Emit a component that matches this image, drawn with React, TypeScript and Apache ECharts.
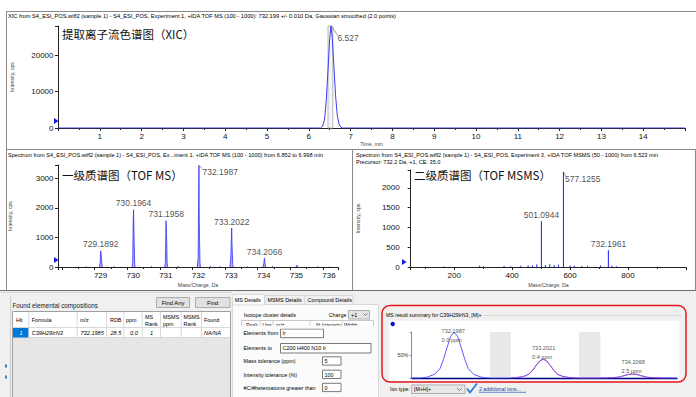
import React, { useEffect, useRef } from "react";
import * as echarts from "echarts";

const FONT = '"Liberation Sans", Arial, Helvetica, sans-serif';
const CJK = '"Noto Sans CJK SC", "Noto Sans CJK JP", sans-serif';

// ---------- XIC ----------
const xicTime = [0, 6.28, 6.33, 6.38, 6.42, 6.46, 6.5, 6.53, 6.56, 6.6, 6.64, 6.68, 6.73, 6.79, 15];
const xicIntensity = [0, 0, 500, 2500, 8000, 16000, 24500, 28000, 25000, 17000, 9000, 3500, 800, 0, 0];
const xicPeakTime = 6.53;
const xicPeakHeight = 28000;
const xicPeakLabel = "6.527";
const xicWindow = [6.46, 6.575];
const xicXTicks = [1, 2, 3, 4, 5, 6, 7, 8, 9, 10, 11, 12, 13, 14];
const xicYTicks = [0, 10000, 20000];

// ---------- TOF MS ----------
const msProfiles: number[][][] = [
  [[729.15, 0], [729.17, 120], [729.19, 550], [729.21, 330], [729.23, 40], [729.25, 0]],
  [[730.15, 0], [730.17, 160], [730.185, 1600], [730.196, 1935], [730.21, 1050], [730.23, 90], [730.245, 0]],
  [[731.15, 0], [731.17, 150], [731.19, 1565], [731.205, 1180], [731.225, 120], [731.245, 0]],
  [[732.15, 0], [732.175, 320], [732.1987, 3435], [732.21, 1480], [732.23, 150], [732.245, 0]],
  [[733.15, 0], [733.175, 330], [733.2022, 1318], [733.215, 700], [733.235, 80], [733.255, 0]],
  [[734.16, 0], [734.185, 120], [734.2066, 300], [734.22, 150], [734.24, 0]],
  [[735.17, 0], [735.2, 60], [735.23, 0]],
];
const msNoiseMz = [728.74, 729.6, 730.75, 731.56, 732.56, 732.84, 733.69, 734.46, 735.84, 736.21];
const msNoiseInt = [25, 30, 35, 30, 40, 30, 25, 30, 25, 20];
const msPeakMz = [729.1892, 730.1964, 731.1958, 732.1987, 733.2022, 734.2066];
const msPeakHeight = [550, 1935, 1565, 3435, 1318, 300];
const msPeakLabels = ["729.1892", "730.1964", "731.1958", "732.1987", "733.2022", "734.2066"];
const msXTicks = [729, 730, 731, 732, 733, 734, 735, 736];
const msYTicks = [0, 1000, 2000, 3000];

// ---------- TOF MSMS ----------
const msmsMz = [501.0944, 577.1255, 732.1961, 165, 288, 300, 372, 395, 430, 455, 470, 485, 515, 530, 545, 560, 600, 615, 640, 660, 705, 745, 760];
const msmsInt = [1154, 2400, 420, 15, 30, 20, 25, 20, 30, 40, 35, 60, 50, 70, 45, 60, 40, 30, 25, 30, 40, 30, 20];
const msmsPeakMz = [501.0944, 577.1255, 732.1961];
const msmsPeakHeight = [1154, 2400, 420];
const msmsPeakLabels = ["501.0944", "577.1255", "732.1961"];
const msmsXTicks = [200, 400, 600, 800];
const msmsYTicks = [0, 500, 1000, 1500, 2000];

// ---------- MS result summary ----------
const miniMeasured: number[][] = [
  [731.724, 0], [731.82, 0], [731.9, 2], [731.98, 8], [732.04, 20], [732.08, 40], [732.12, 66], [732.16, 90],
  [732.1987, 100], [732.24, 90], [732.28, 66], [732.32, 40], [732.36, 20], [732.42, 8], [732.5, 2], [732.58, 0],
  [732.82, 0], [732.9, 0.8], [732.98, 3.3], [733.04, 8.2], [733.08, 16.4], [733.12, 27], [733.16, 37],
  [733.2021, 41], [733.24, 37], [733.28, 27], [733.32, 16.4], [733.36, 8.2], [733.42, 3.3], [733.5, 0.8], [733.58, 0],
  [733.82, 0], [733.9, 0.2], [733.98, 0.7], [734.04, 1.7], [734.08, 3.5], [734.12, 5.7], [734.16, 7.8],
  [734.2068, 8.7], [734.25, 7.8], [734.29, 5.7], [734.33, 3.5], [734.37, 1.7], [734.43, 0.7], [734.51, 0.2], [734.59, 0],
  [734.7, 0],
];
const miniTheory: number[][] = [
  [732.82, 0], [732.9, 0.9], [732.98, 3.6], [733.04, 8.8], [733.08, 17.2], [733.12, 27.8], [733.16, 37.4],
  [733.2, 40.6], [733.24, 36.4], [733.28, 26.2], [733.32, 15.8], [733.36, 7.8], [733.42, 3], [733.5, 0.7], [733.58, 0],
  [733.82, 0], [733.9, 0.3], [733.98, 0.9], [734.04, 2.1], [734.08, 4], [734.12, 6.2], [734.16, 8],
  [734.2, 8.6], [734.24, 7.6], [734.28, 5.5], [734.32, 3.3], [734.36, 1.6], [734.42, 0.6], [734.5, 0.2], [734.58, 0],
];
const miniBands = [[732.603, 732.835], [733.6, 733.84]];
const miniPeakMz = [732.1987, 733.2021, 734.2068];
const miniPeakPct = [100, 41, 8.7];
const miniPeakLabels = ["732.1987", "733.2021", "734.2068"];
const miniPpmLabels = ["0.0 ppm", "0.4 ppm", "2.5 ppm"];
const miniYTicks = [50];

// ---------- form table ----------
const tableHeaders = ["Hit", "Formula", "m/z", "RDB", "ppm", "MS\nRank", "MSMS\nppm", "MSMS\nRank", "Found"];
const tableRow = ["1", "C39H29IrN3", "732.1985", "28.5", "0.0", "1", "", "", "NA/NA"];

const T = (x: number, y: number, text: string, o: any = {}) => ({
  type: "text",
  x,
  y,
  z: o.z ?? 50,
  silent: true,
  style: {
    text,
    fontSize: o.size ?? 5.6,
    fontFamily: o.family ?? FONT,
    fill: o.color ?? "#000",
    align: o.align ?? "left",
    verticalAlign: "middle",
    fontStyle: o.italic ? "italic" : "normal",
    lineHeight: o.lh ?? 6,
  },
});
const R = (x: number, y: number, w: number, h: number, fill: string, stroke?: string, z = -5, r = 0, lw = 1) => ({
  type: "rect",
  z,
  silent: true,
  shape: { x, y, width: w, height: h, r },
  style: { fill, stroke: stroke ?? "none", lineWidth: lw },
});
const L = (x1: number, y1: number, x2: number, y2: number, stroke: string, w = 1, z = 40) => ({
  type: "line",
  z,
  silent: true,
  shape: { x1, y1, x2, y2 },
  style: { stroke, lineWidth: w },
});

const AX = "#222";
const CLEAR = "rgba(0,0,0,0)";
const baseAxis = (gridIndex: number, fmt: (v: number) => string, extra: any = {}) => ({
  type: "value",
  gridIndex,
  axisLine: { show: true, onZero: false, lineStyle: { color: AX, width: 1 } },
  axisTick: { show: true, length: 3, lineStyle: { color: AX, width: 1 } },
  minorTick: { show: false },
  splitLine: { show: false },
  axisLabel: { fontSize: 8, color: "#111", fontFamily: FONT, margin: 4.5, formatter: fmt },
  nameTextStyle: { fontSize: 5.2, color: "#444", fontFamily: FONT },
  nameLocation: "middle",
  ...extra,
});

function buildOption() {
  const graphics: any[] = [];
  // frames
  graphics.push(L(6, 11.5, 696, 11.5, "#8a8a8a"));
  graphics.push(L(6.5, 11, 6.5, 291, "#8a8a8a"));
  graphics.push(L(6, 149.5, 696, 149.5, "#8a8a8a"));
  graphics.push(L(352.5, 149.5, 352.5, 291, "#8a8a8a"));
  graphics.push(L(695.5, 149.5, 695.5, 291, "#8a8a8a"));
  // titles
  graphics.push(T(8, 16, "XIC from S4_ESI_POS.wiff2 (sample 1) - S4_ESI_POS, Experiment 1, +IDA TOF MS (100 - 1000): 732.199 +/- 0.010 Da, Gaussian smoothed (2.0 points)", { size: 5.7 }));
  graphics.push(T(8, 155, "Spectrum from S4_ESI_POS.wiff2 (sample 1) - S4_ESI_POS, Ex...iment 1, +IDA TOF MS (100 - 1000) from 6.852 to 6.998 min"));
  graphics.push(T(356, 155, "Spectrum from S4_ESI_POS.wiff2 (sample 1) - S4_ESI_POS, Experiment 3, +IDA TOF MSMS (50 - 1000) from 6.523 min"));
  graphics.push(T(356, 161.5, "Precursor: 732.2 Da, +1, CE: 35.0"));
  // chinese labels
  graphics.push(T(62, 34, "提取离子流色谱图（XIC）", { size: 11.5, family: CJK, color: "#111" }));
  graphics.push(T(62, 175, "一级质谱图（TOF MS）", { size: 11.5, family: CJK, color: "#111" }));
  graphics.push(T(414, 175, "二级质谱图（TOF MSMS）", { size: 11.5, family: CJK, color: "#111" }));
  // origin markers
  const marker = (x: number, y: number) => ({
    type: "polygon",
    z: 60,
    silent: true,
    shape: { points: [[x - 3, y - 3], [x + 1.5, y], [x - 3, y + 3]] },
    style: { fill: "#1a1ae0" },
  });
  graphics.push(marker(57, 121));
  graphics.push(marker(57, 260));
  graphics.push(marker(405, 262));

  // lower area
  graphics.push(R(0, 291, 696, 106, "#f0f0f0", undefined, -6));
  graphics.push(L(0, 290.5, 696, 290.5, "#6e6e6e", 1));
  graphics.push(L(0, 292.5, 232, 292.5, "#d6d6d6", 1));
  graphics.push(L(10.5, 296, 10.5, 397, "#cfcfcf", 1));
  graphics.push(R(5, 364.5, 1.8, 3, "#1e6fd0", undefined, 10));
  graphics.push(R(5, 375.5, 1.8, 3, "#1e6fd0", undefined, 10));
  graphics.push(T(12.5, 305, "Found elemental compositions", { size: 6.3, color: "#222" }));
  graphics.push(R(156.5, 297.5, 33, 10, "#e1e1e1", "#adadad", 20));
  graphics.push(T(173, 302.5, "Find Any", { align: "center", size: 5.8 }));
  graphics.push(R(195.5, 297.5, 34.5, 10, "#e1e1e1", "#adadad", 20));
  graphics.push(T(212.7, 302.5, "Find", { align: "center", size: 5.8 }));
  // table
  graphics.push(R(12.5, 311.5, 218, 86, "#e6e6e6", "#a0a0a0", -4));
  graphics.push(R(13, 312, 217, 15, "#ffffff", undefined, -3));
  graphics.push(R(13, 327.5, 217, 10, "#ffffff", undefined, -3));
  const colX = [13, 28.3, 76.7, 106, 123.3, 141.7, 160, 180.7, 201, 230];
  for (let i = 1; i < colX.length - 1; i++) graphics.push(L(colX[i] + 0.5, 312, colX[i] + 0.5, 337.5, "#d9d9d9", 1, 30));
  graphics.push(L(13, 327.5, 230, 327.5, "#d9d9d9", 1, 30));
  graphics.push(L(13, 337.5, 230, 337.5, "#d9d9d9", 1, 30));
  graphics.push(R(13, 328, 15.3, 9.5, "#0078d7", undefined, 31));
  const hx = [16, 31.7, 80, 110, 126, 145, 163, 183.5, 204];
  tableHeaders.forEach((h, i) => graphics.push(T(hx[i], 320, h, { size: 5.4, lh: 7 })));
  const rx = [19.5, 31.7, 80.5, 110.5, 130, 150, 163, 184, 204];
  tableRow.forEach((v, i) => {
    if (v) graphics.push(T(rx[i], 332.8, v, { size: 5.6, italic: true, color: i === 0 ? "#ffffff" : "#000" }));
  });
  // tabs
  graphics.push(R(232.5, 304.5, 146, 93, "#fbfbfb", "#d9d9d9", -4));
  graphics.push(R(232.5, 294.5, 32, 10.5, "#fbfbfb", "#d9d9d9", -3));
  graphics.push(R(265, 295.5, 40, 9, "#f0f0f0", "#d9d9d9", -3));
  graphics.push(R(305, 295.5, 48, 9, "#f0f0f0", "#d9d9d9", -3));
  graphics.push(T(234.7, 300, "MS Details", { size: 5.4 }));
  graphics.push(T(267.5, 300.3, "MSMS Details", { size: 5.4 }));
  graphics.push(T(307.5, 300.3, "Compound Details", { size: 5.4 }));
  graphics.push(T(243.7, 315, "Isotope cluster details", { size: 5.4 }));
  graphics.push(T(328.7, 314.5, "Charge", { size: 5.4 }));
  graphics.push(R(348.5, 310.5, 21, 8.5, "#e5e5e5", "#adadad", 20));
  graphics.push(T(351, 314.8, "+1", { size: 5.4 }));
  graphics.push({ type: "polyline", z: 50, silent: true, shape: { points: [[363.5, 313.5], [365.5, 315.5], [367.5, 313.5]] }, style: { stroke: "#555", lineWidth: 0.7, fill: "none" } });
  graphics.push(R(241.5, 320.5, 132, 7, "#ffffff", "#c8c8c8", -3));
  [260.3, 273, 310, 342].forEach((x) => graphics.push(L(x, 320.5, x, 327.5, "#d0d0d0", 1, 30)));
  [["Peak", 246], ["Use", 262.5], ["m/z", 276], ["% Intensity", 316], ["Width", 344]].forEach(([s, x]) =>
    graphics.push(T(x as number, 324.6, s as string, { size: 5.2 }))
  );
  graphics.push(R(236, 325.6, 140, 3, "#fbfbfb", undefined, 55));
  graphics.push(T(243.5, 333.2, "Elements from", { size: 5.4 }));
  graphics.push(R(280.5, 329, 43, 8.7, "#ffffff", "#7a7a7a", 20));
  graphics.push(T(282.5, 333.4, "Ir", { size: 5.4 }));
  graphics.push(T(243.5, 348.2, "Elements to", { size: 5.4 }));
  graphics.push(R(280.5, 343.5, 90.5, 9.5, "#ffffff", "#7a7a7a", 20));
  graphics.push(T(282.5, 348.3, "C200 H400 N10 Ir", { size: 5.4 }));
  graphics.push(T(243.5, 361.3, "Mass tolerance (ppm)", { size: 5.4 }));
  graphics.push(R(322.5, 356.8, 18.5, 8.3, "#ffffff", "#7a7a7a", 20));
  graphics.push(T(324.5, 361.2, "5", { size: 5.4 }));
  graphics.push(T(243.5, 374.8, "Intensity tolerance (%)", { size: 5.4 }));
  graphics.push(R(322.5, 370.2, 18.5, 8.3, "#ffffff", "#7a7a7a", 20));
  graphics.push(T(324.5, 374.5, "100", { size: 5.4 }));
  graphics.push(T(243.5, 388.2, "#C/#heteroatoms greater than", { size: 5.4 }));
  graphics.push(R(322.5, 383.3, 18.5, 8.3, "#ffffff", "#7a7a7a", 20));
  graphics.push(T(324.5, 387.7, "0", { size: 5.4 }));
  // MS result summary
  graphics.push(R(389.3, 320.7, 290, 60, "#ffffff", undefined, -4));
  graphics.push(L(484, 315.5, 681.5, 315.5, "#d5d5d5", 1, 10));
  graphics.push(T(386, 315.2, "MS result summary for C39H29IrN3, [M]+", { size: 5.2 }));
  graphics.push({ type: "circle", z: 60, silent: true, shape: { cx: 392.7, cy: 324, r: 2.2 }, style: { fill: "#1212c8" } });
  graphics.push(R(382, 305.5, 304, 76.5, "none", "#e8141c", 70, 8, 1.5));
  graphics.push(T(390, 389.2, "Ion type:", { size: 5.2 }));
  graphics.push(R(411.7, 385, 53.3, 8.5, "#e8e8e8", "#adadad", 20));
  graphics.push(T(414, 389.4, "[M+H]+", { size: 5.2 }));
  graphics.push({ type: "polyline", z: 50, silent: true, shape: { points: [[457, 388.2], [459.5, 390.5], [462, 388.2]] }, style: { stroke: "#555", lineWidth: 0.7, fill: "none" } });
  graphics.push({ type: "polyline", z: 50, silent: true, shape: { points: [[467, 388.5], [470, 392.5], [477, 383.5]] }, style: { stroke: "#2a7fd4", lineWidth: 1.8, fill: "none" } });
  graphics.push(T(479, 389, "2 additional ions...", { size: 5.2, color: "#0645ad" }));
  graphics.push(L(479, 392.3, 526, 392.3, "#0645ad", 0.6, 50));

  const leader = (c1: number[], c2: number[]) => ({
    silent: true,
    symbol: ["none", "none"],
    label: { show: false },
    lineStyle: { color: "#555", width: 0.6, type: "solid" },
    data: [[{ coord: c1 }, { coord: c2 }]],
  });
  const labelSeriesBase = {
    type: "scatter",
    symbolSize: 1,
    itemStyle: { color: CLEAR },
    silent: true,
    z: 6,
  };

  const series: any[] = [];
  series.push({
    type: "line",
    xAxisIndex: 0,
    yAxisIndex: 0,
    data: xicTime.map((t, i) => [t, xicIntensity[i]]),
    showSymbol: false,
    lineStyle: { color: "#3c3cf0", width: 1 },
    markArea: {
      silent: true,
      itemStyle: { color: "rgba(225,225,225,0.3)", borderColor: "#a8a8a8", borderWidth: 0.8 },
      data: [[{ xAxis: xicWindow[0], yAxis: 0 }, { xAxis: xicWindow[1], yAxis: 28000 }]],
    },
    markLine: leader([xicPeakTime + 0.01, xicPeakHeight - 100], [6.7, 25300]),
  });
  series.push({
    ...labelSeriesBase,
    xAxisIndex: 0,
    yAxisIndex: 0,
    data: [[xicPeakTime, xicPeakHeight]],
    label: { show: true, position: [7, 8], formatter: xicPeakLabel, fontSize: 8.5, color: "#222", fontFamily: FONT },
  });
  msProfiles.forEach((p, idx) => {
    series.push({
      type: "line",
      xAxisIndex: 1,
      yAxisIndex: 1,
      data: p,
      showSymbol: false,
      lineStyle: { color: "#3535f0", width: 0.8 },
      areaStyle: { color: "#9b9bff", opacity: 0.8 },
      ...(idx === 3 ? { markLine: leader([732.205, 3440], [732.3, 3320]) } : {}),
    });
  });
  series.push({
    type: "bar",
    xAxisIndex: 1,
    yAxisIndex: 1,
    barWidth: 1,
    itemStyle: { color: "#5a5aff" },
    data: msNoiseMz.map((m, i) => [m, msNoiseInt[i]]),
  });
  series.push({
    ...labelSeriesBase,
    xAxisIndex: 1,
    yAxisIndex: 1,
    data: msPeakMz.map((m, i) => ({
      value: [m, msPeakHeight[i]],
      label: i === 3 ? { position: [4, 3] } : { position: "top", distance: 1.5 },
    })),
    label: {
      show: true,
      fontSize: 8.5,
      color: "#222",
      fontFamily: FONT,
      formatter: (p: any) => msPeakLabels[p.dataIndex],
    },
  });
  series.push({
    type: "bar",
    xAxisIndex: 2,
    yAxisIndex: 2,
    barWidth: 1.1,
    itemStyle: { color: "#2f2ff5" },
    data: msmsMz.map((m, i) => [m, msmsInt[i]]),
    markLine: leader([577.6, 2400], [585, 2290]),
  });
  series.push({
    ...labelSeriesBase,
    xAxisIndex: 2,
    yAxisIndex: 2,
    data: msmsPeakMz.map((m, i) => ({
      value: [m, msmsPeakHeight[i]],
      label: i === 1 ? { position: [2, 3] } : { position: "top", distance: 1.5 },
    })),
    label: {
      show: true,
      fontSize: 8.5,
      color: "#222",
      fontFamily: FONT,
      formatter: (p: any) => msmsPeakLabels[p.dataIndex],
    },
  });
  series.push({
    type: "line",
    xAxisIndex: 3,
    yAxisIndex: 3,
    data: miniMeasured,
    showSymbol: false,
    lineStyle: { color: "#5a5aff", width: 1 },
    z: 2,
    markArea: {
      silent: true,
      itemStyle: { color: "#e8e8e8" },
      data: miniBands.map((b) => [{ xAxis: b[0] }, { xAxis: b[1] }]),
    },
  });
  series.push({
    type: "line",
    xAxisIndex: 3,
    yAxisIndex: 3,
    data: miniTheory,
    showSymbol: false,
    lineStyle: { color: "#c040d0", width: 0.8, opacity: 0.85 },
    z: 3,
  });
  const miniOffsets = [[-12, -5.5], [-11, -15], [-11, -16]];
  series.push({
    ...labelSeriesBase,
    xAxisIndex: 3,
    yAxisIndex: 3,
    data: miniPeakMz.map((m, i) => ({ value: [m, miniPeakPct[i]], label: { position: miniOffsets[i] } })),
    label: {
      show: true,
      fontSize: 5.6,
      lineHeight: 9,
      color: "#222",
      fontFamily: FONT,
      align: "left",
      verticalAlign: "top",
      formatter: (p: any) => miniPeakLabels[p.dataIndex] + "\n" + miniPpmLabels[p.dataIndex],
    },
  });

  return {
    animation: false,
    backgroundColor: "#ffffff",
    textStyle: { fontFamily: FONT },
    grid: [
      { left: 58, top: 26, width: 627, height: 102, outerBoundsMode: "none" },
      { left: 58, top: 165, width: 280, height: 102, outerBoundsMode: "none" },
      { left: 410.7, top: 170, width: 275.3, height: 97, outerBoundsMode: "none" },
      { left: 411.7, top: 332, width: 265.3, height: 46, outerBoundsMode: "none" },
    ],
    xAxis: [
      baseAxis(0, (v) => (xicXTicks.includes(v) ? String(v) : ""), {
        min: 0,
        max: 15,
        interval: 1,
        minorTick: { show: true, splitNumber: 2, length: 2, lineStyle: { color: AX } },
        name: "Time, min",
        nameGap: 12,
      }),
      baseAxis(1, (v) => (msXTicks.includes(v) ? String(v) : ""), {
        min: 727.88,
        max: 736.46,
        splitNumber: 8,
        minorTick: { show: true, splitNumber: 2, length: 2, lineStyle: { color: AX } },
        axisLabel: {
          fontSize: 8,
          color: "#111",
          fontFamily: FONT,
          margin: 4.5,
          padding: [0, 0, 0, 12],
          formatter: (v: number) => (msXTicks.includes(v) ? String(v) : ""),
        },
        name: "Mass/Charge, Da",
        nameGap: 15,
      }),
      baseAxis(2, (v) => (msmsXTicks.includes(v) ? String(v) : ""), {
        min: 50,
        max: 1000,
        splitNumber: 5,
        minorTick: { show: true, splitNumber: 2, length: 2, lineStyle: { color: AX } },
        name: "Mass/Charge, Da",
        nameGap: 15,
      }),
      {
        type: "value",
        gridIndex: 3,
        min: 731.724,
        max: 734.7,
        axisLine: { show: true, onZero: false, lineStyle: { color: "#000080", width: 1.3 } },
        axisTick: { show: false },
        axisLabel: { show: false },
        splitLine: { show: false },
      },
    ],
    yAxis: [
      baseAxis(0, (v) => (xicYTicks.includes(v) ? String(v) : ""), {
        min: 0,
        max: 28000,
        interval: 10000,
        name: "Intensity, cps",
        nameGap: 43.5,
      }),
      baseAxis(1, (v) => (msYTicks.includes(v) ? String(v) : ""), {
        min: 0,
        max: 3450,
        interval: 1000,
        name: "Intensity, cps",
        nameGap: 45.5,
      }),
      baseAxis(2, (v) => (msmsYTicks.includes(v) ? String(v) : ""), {
        min: 0,
        max: 2450,
        interval: 500,
        name: "Intensity, cps",
        nameGap: 50,
        axisLabel: { fontSize: 8, color: "#111", fontFamily: FONT, margin: 11, formatter: (v: number) => (msmsYTicks.includes(v) ? String(v) : "") },
      }),
      {
        type: "value",
        gridIndex: 3,
        min: 0,
        max: 100,
        interval: 50,
        axisLine: { show: true, lineStyle: { color: "#8a8a8a", width: 1 } },
        axisTick: { show: true, length: 2, lineStyle: { color: "#8a8a8a" } },
        axisLabel: { fontSize: 5.4, color: "#333", margin: 3.5, fontFamily: FONT, formatter: (v: number) => (miniYTicks.includes(v) ? v + "%" : "") },
        splitLine: { show: false },
      },
    ],
    series,
    graphic: { elements: graphics },
  };
}

export default function App() {
  const ref = useRef<HTMLDivElement>(null);
  useEffect(() => {
    if (!ref.current) return;
    const chart = echarts.init(ref.current, null, { renderer: "svg", width: 696, height: 397 });
    chart.setOption(buildOption() as any);
    return () => chart.dispose();
  }, []);
  return <div ref={ref} style={{ position: "absolute", left: 0, top: 0, width: 696, height: 397 }} />;
}
